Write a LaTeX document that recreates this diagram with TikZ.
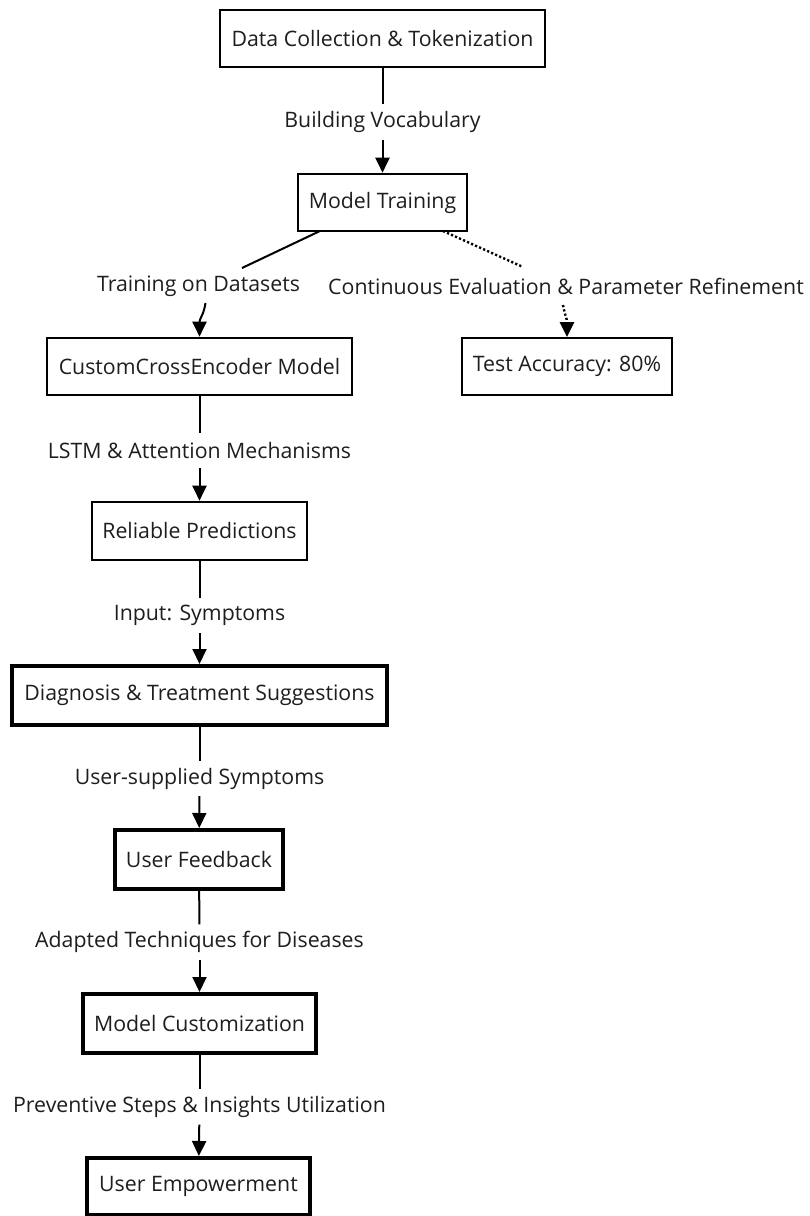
\documentclass[tikz,border=0pt]{standalone}
\usepackage{fontspec}
\setmainfont{Open Sans}
\usetikzlibrary{arrows.meta}
\definecolor{ink}{HTML}{1E1E1E}
\tikzset{
  txt/.style={text=ink, font=\fontsize{21.3}{25}\selectfont},
  box/.style={draw=black, rectangle, inner sep=0pt, align=center, txt},
  thin box/.style={box, line width=1.8pt},
  mid box/.style={box, line width=2.6pt},
  heavy box/.style={box, line width=4pt},
  lbl/.style={inner sep=0pt, minimum height=35pt, txt},
  conn/.style={line width=2pt, draw=black},
  arr/.style={conn, -{Triangle[length=15pt,width=14pt]}},
  dotconn/.style={conn, line width=2.4pt, dash pattern=on 2.2pt off 2.2pt},
  dotarr/.style={arr, line width=2.4pt, dash pattern=on 2.2pt off 2.2pt}
}
\begin{document}
\begin{tikzpicture}[x=1pt,y=-1pt]
\useasboundingbox (0,0) rectangle (809,1216);
\fill[white] (0,0) rectangle (809,1216);

% process boxes
\node[mid box, minimum width=325pt, minimum height=57pt] (b1) at (382.5,38.5) {Data Collection \& Tokenization};
\node[mid box, minimum width=169pt, minimum height=57pt] (b2) at (382.5,202.5) {Model Training};
\node[mid box, minimum width=305pt, minimum height=57pt] (b3) at (199.5,366.5) {CustomCrossEncoder Model};
\node[thin box, minimum width=210pt, minimum height=57pt] (t) at (567,366.5) {Test Accuracy: 80\%};
\node[mid box, minimum width=215pt, minimum height=58pt] (b4) at (199.5,531) {Reliable Predictions};
\node[heavy box, minimum width=375pt, minimum height=59pt] (b5) at (199.5,695.5) {Diagnosis \& Treatment Suggestions};
\node[heavy box, minimum width=168pt, minimum height=59pt] (b6) at (199,859.5) {User Feedback};
\node[heavy box, minimum width=233pt, minimum height=59pt] (b7) at (199.5,1023.5) {Model Customization};
\node[heavy box, minimum width=223pt, minimum height=57pt] (b8) at (198.5,1186.5) {User Empowerment};

% edge labels
\node[lbl] (l1) at (382.5,122) {Building Vocabulary};
\node[lbl] (l2) at (198.5,286) {Training on Datasets};
\node[lbl] (l3) at (566,286) {Continuous Evaluation \& Parameter Refinement};
\node[lbl] (l4) at (199.5,450.5) {LSTM \& Attention Mechanisms};
\node[lbl] (l5) at (199.5,615.5) {Input: Symptoms};
\node[lbl] (l6) at (199.5,778.5) {User-supplied Symptoms};
\node[lbl] (l7) at (199.5,942) {Adapted Techniques for Diseases};
\node[lbl] (l8) at (199.5,1107) {Preventive Steps \& Insights Utilization};

% free ends of the branching edges
\coordinate (s2a) at (320,231);
\coordinate (e2a) at (242,268);
\coordinate (s2b) at (205.5,303);
\coordinate (s3a) at (443,231);
\coordinate (e3a) at (523,267);
\coordinate (s3b) at (563,305);

% connectors
\draw[conn] (b1) -- (l1);
\draw[arr] (l1) -- (b2);
\draw[conn] (s2a) -- (e2a);
\draw[arr] (s2b) .. controls (203.5,316) and (199.5,318) .. (b3.north);
\draw[dotconn] (s3a) -- (e3a);
\draw[dotarr] (s3b) .. controls (565,316) and (567,318) .. (t.north);
\draw[conn] (b3) -- (l4);
\draw[arr] (l4) -- (b4);
\draw[conn] (b4) -- (l5);
\draw[arr] (l5) -- (b5);
\draw[conn] (b5) -- (l6);
\draw[arr] (l6) -- (b6);
\draw[conn] (b6) -- (l7);
\draw[arr] (l7) -- (b7);
\draw[conn] (b7) -- (l8);
\draw[arr] (l8) -- (b8);
\end{tikzpicture}
\end{document}
